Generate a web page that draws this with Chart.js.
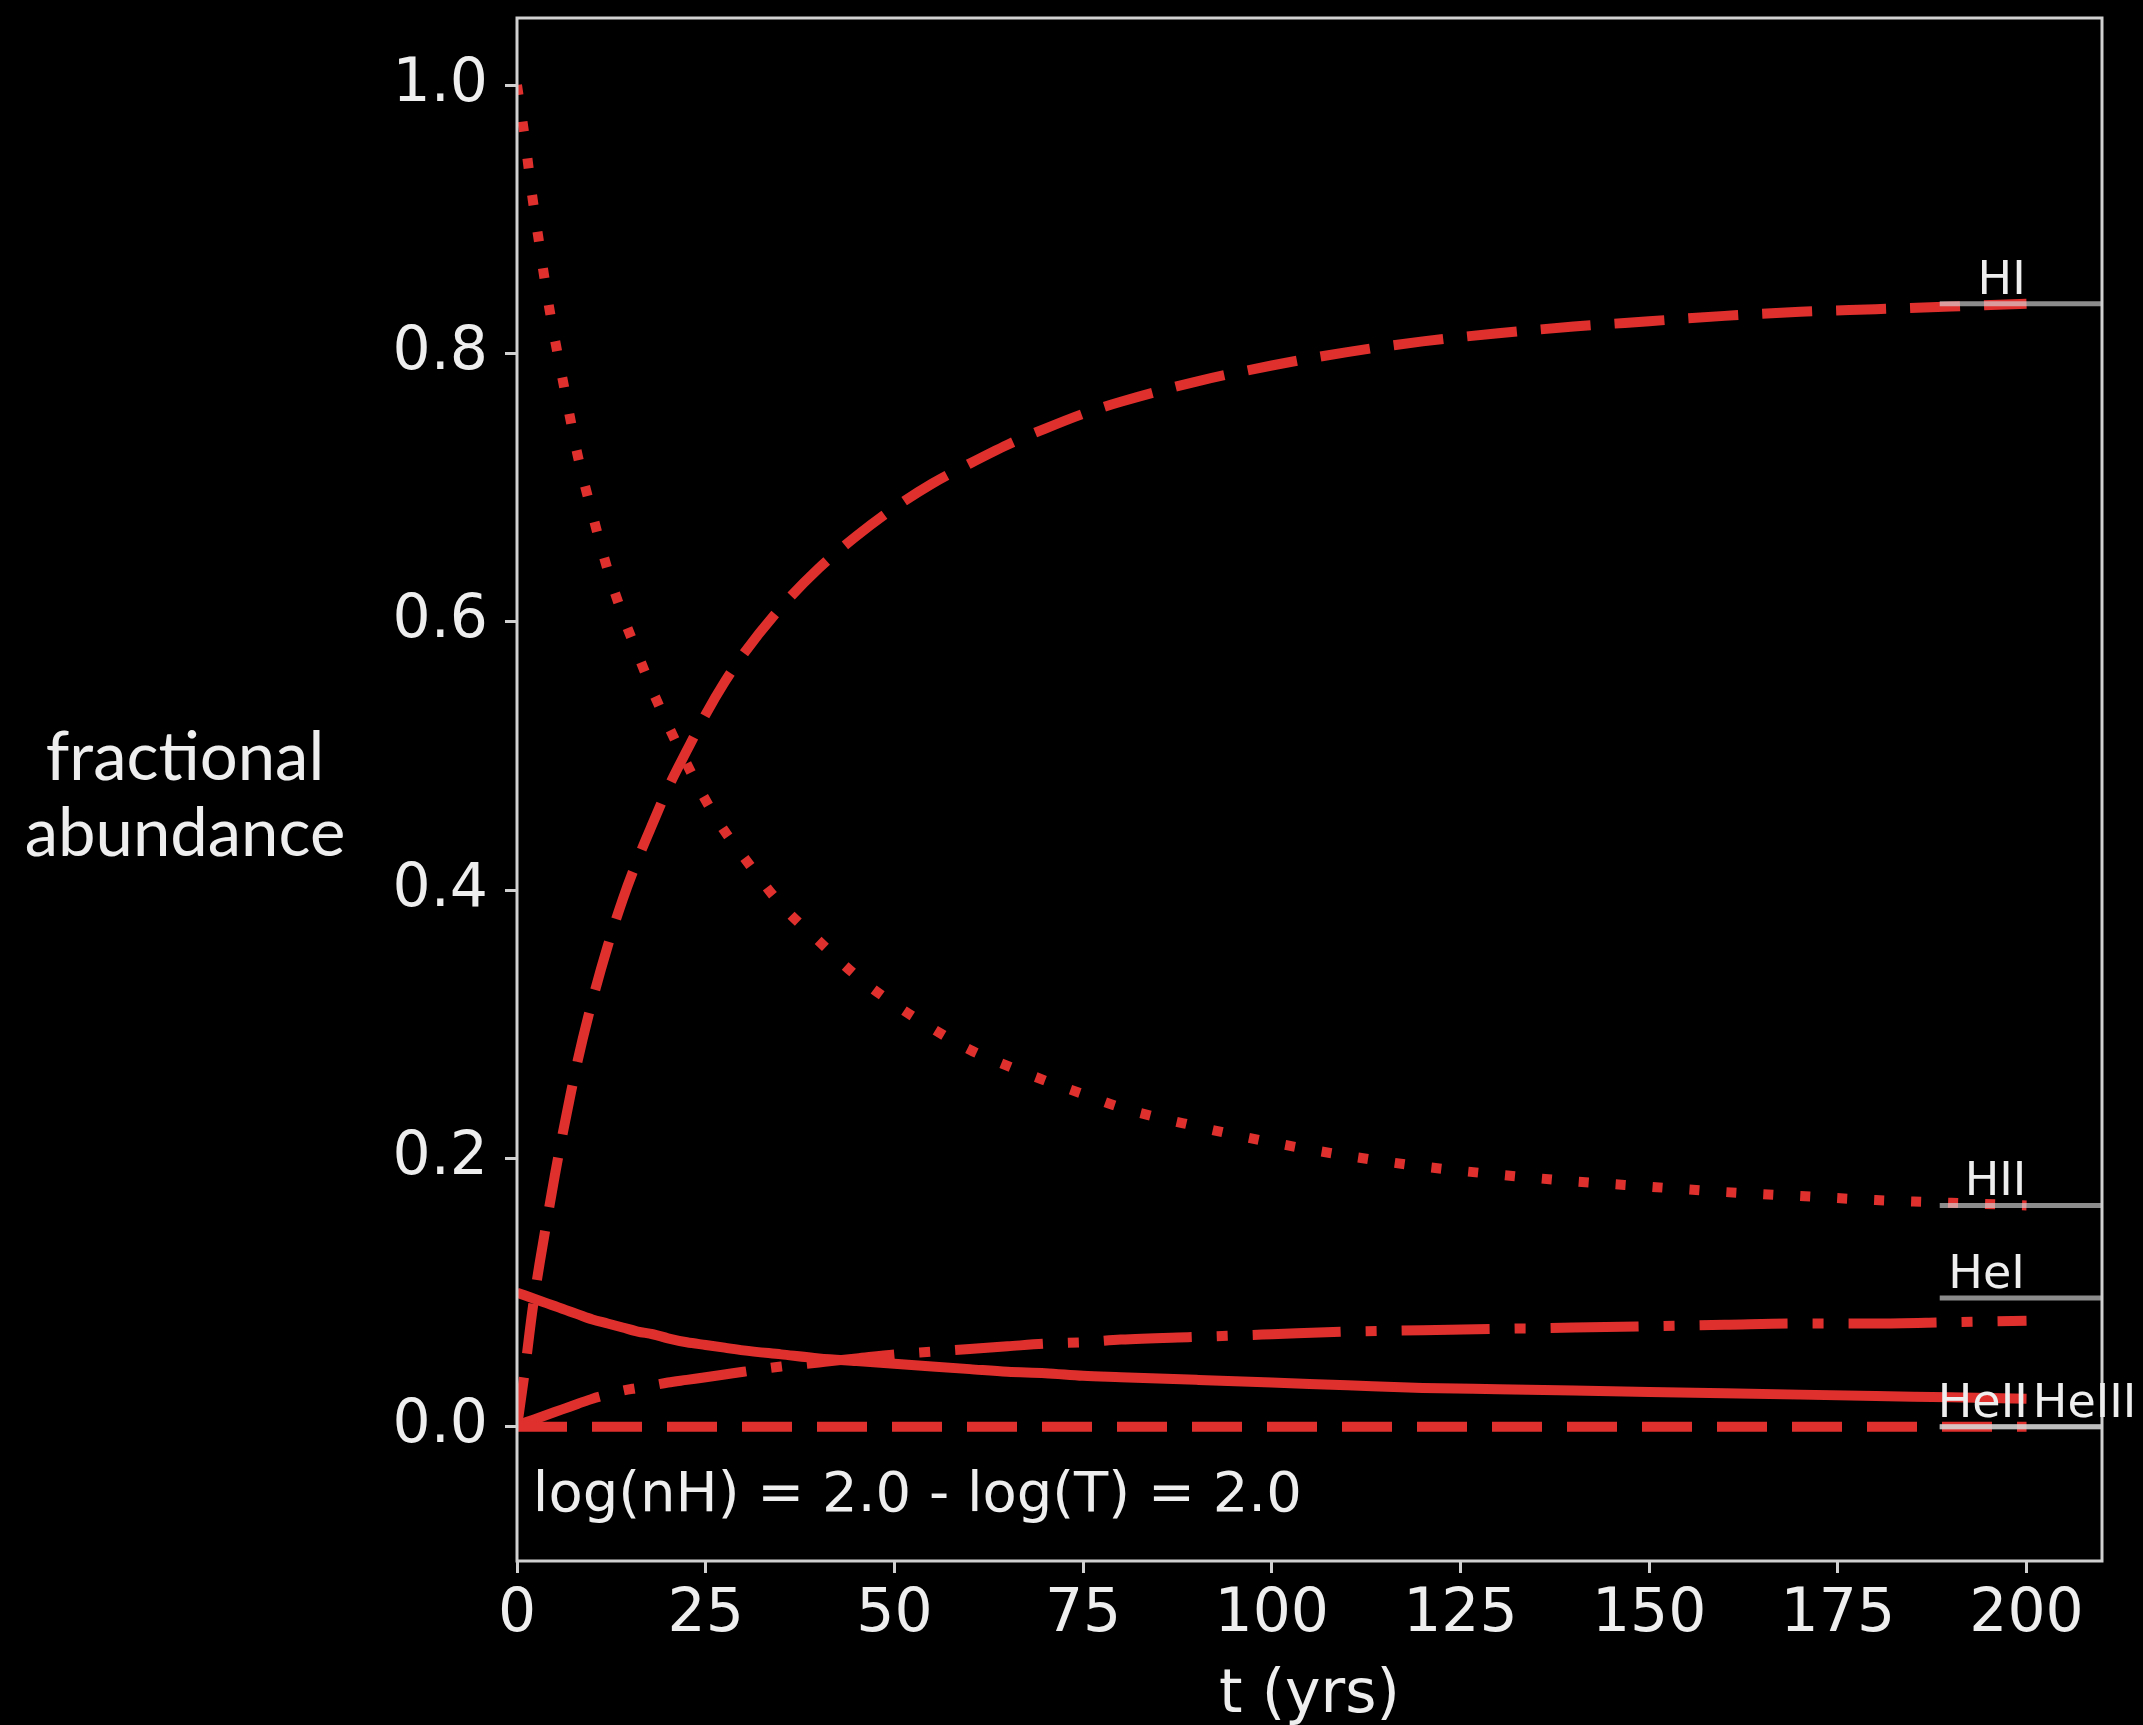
<!DOCTYPE html>
<html>
<head>
<meta charset="utf-8">
<title>fractional abundance</title>
<script src="https://cdn.jsdelivr.net/npm/chart.js@4.4.1/dist/chart.umd.min.js"></script>
<style>
  html, body { margin: 0; padding: 0; background: #000; }
  #wrap { width: 2143px; height: 1725px; }
</style>
</head>
<body>
<div id="wrap"><canvas id="abundanceChart" width="2143" height="1725"></canvas></div>
<script>
// time samples (yrs)
const tYrs   = [0, 1, 2, 3, 4, 5, 6, 7, 8, 10, 12, 14, 16, 18, 20, 22.5, 25, 27.5, 30, 35, 40, 45, 50, 55, 60, 65, 70, 75, 80, 90, 100, 110, 120, 130, 140, 150, 160, 170, 180, 190, 200];
// dashed, rising
const hiFrac = [0, 0.040, 0.085, 0.122, 0.155, 0.187, 0.217, 0.245, 0.272, 0.318, 0.358, 0.393, 0.423, 0.450, 0.476, 0.504, 0.531, 0.555, 0.576, 0.611, 0.640, 0.664, 0.685, 0.703, 0.718, 0.732, 0.744, 0.755, 0.764, 0.779, 0.791, 0.801, 0.809, 0.815, 0.820, 0.824, 0.828, 0.831, 0.833, 0.835, 0.837];
// dotted, falling
const hiiFrac = [1.000, 0.962, 0.918, 0.880, 0.843, 0.811, 0.782, 0.753, 0.725, 0.680, 0.639, 0.605, 0.576, 0.548, 0.523, 0.494, 0.467, 0.444, 0.425, 0.389, 0.362, 0.336, 0.315, 0.297, 0.281, 0.269, 0.258, 0.248, 0.238, 0.224, 0.212, 0.202, 0.194, 0.188, 0.183, 0.179, 0.175, 0.172, 0.169, 0.167, 0.165];
// dash-dot
const heiFrac = [0, 0.003, 0.005, 0.007, 0.009, 0.011, 0.013, 0.015, 0.017, 0.021, 0.024, 0.027, 0.029, 0.031, 0.033, 0.035, 0.037, 0.039, 0.041, 0.045, 0.048, 0.051, 0.054, 0.056, 0.058, 0.060, 0.062, 0.063, 0.065, 0.067, 0.069, 0.071, 0.072, 0.073, 0.074, 0.075, 0.076, 0.077, 0.077, 0.078, 0.079];
// solid
const heiiFrac = [0.100, 0.098, 0.096, 0.094, 0.092, 0.090, 0.088, 0.086, 0.084, 0.080, 0.077, 0.074, 0.071, 0.069, 0.066, 0.063, 0.061, 0.059, 0.057, 0.054, 0.051, 0.049, 0.047, 0.045, 0.043, 0.041, 0.040, 0.038, 0.037, 0.035, 0.033, 0.031, 0.029, 0.028, 0.027, 0.026, 0.025, 0.024, 0.023, 0.022, 0.021];
// dashed, flat at zero
const heiiiFrac = tYrs.map(() => 0);

// species labels at the right edge
const labelNames   = ['HI', 'HII', 'HeI', 'HeII', 'HeIII'];
const labelLevels  = [0.837, 0.165, 0.096, 0.0, 0.0];
const labelCenters = [196.7, 195.9, 194.7, 194.2, 207.7];
const labelSpan    = [188.5, 210];

const xTicks = [0, 25, 50, 75, 100, 125, 150, 175, 200];
const yTicks = [0.0, 0.2, 0.4, 0.6, 0.8, 1.0];
const xRange = [0, 210];
const yRange = [-0.1, 1.05];

const noteText = 'log(nH) = 2.0 - log(T) = 2.0';
const noteAt = [2.1, -0.052];

const RED = '#e0302e';
const GREY = '#d0d0d0';
const TEXT = '#eeeeee';

function series(vals) {
    return tYrs.map((t, i) => ({x: t, y: vals[i]}));
}

function redLine(vals, dash) {
    return {
        data: series(vals),
        borderColor: RED,
        borderWidth: 10,
        borderDash: dash,
        borderCapStyle: 'butt',
        pointRadius: 0,
        cubicInterpolationMode: 'monotone',
        fill: false,
        order: 1
    };
}

const datasets = [
    redLine(hiFrac, [50, 24]),
    redLine(hiiFrac, [10, 27]),
    redLine(heiFrac, [88, 25, 11, 25]),
    redLine(heiiFrac, []),
    redLine(heiiiFrac, [50, 25])
];
// grey marker lines under the labels, drawn over the red ones
labelLevels.forEach(v => {
    datasets.push({
        data: [{x: labelSpan[0], y: v}, {x: labelSpan[1], y: v}],
        borderColor: 'rgba(215,215,215,0.65)',
        borderWidth: 5,
        pointRadius: 0,
        fill: false,
        order: 0
    });
});

const overlayPlugin = {
    id: 'overlay',
    beforeDraw(chart) {
        const ctx = chart.ctx;
        ctx.save();
        ctx.fillStyle = '#000';
        ctx.fillRect(0, 0, chart.width, chart.height);
        ctx.restore();
    },
    afterDatasetsDraw(chart) {
        const {ctx, chartArea, scales} = chart;
        const xs = scales.x, ys = scales.y;
        ctx.save();
        // frame
        ctx.strokeStyle = GREY;
        ctx.lineWidth = 3;
        ctx.strokeRect(chartArea.left, chartArea.top, chartArea.right - chartArea.left, chartArea.bottom - chartArea.top);

        ctx.fillStyle = TEXT;
        // species labels
        ctx.font = '46px "DejaVu Sans"';
        ctx.textAlign = 'center';
        ctx.textBaseline = 'alphabetic';
        labelNames.forEach((name, i) => {
            ctx.fillText(name, xs.getPixelForValue(labelCenters[i]), ys.getPixelForValue(labelLevels[i]) - 10);
        });

        // note inside the plot
        ctx.font = '56px "DejaVu Sans"';
        ctx.textAlign = 'left';
        ctx.textBaseline = 'middle';
        ctx.fillText(noteText, xs.getPixelForValue(noteAt[0]), ys.getPixelForValue(noteAt[1]));

        // axis titles
        ctx.font = '60px "DejaVu Sans"';
        ctx.textAlign = 'center';
        ctx.fillText('t (yrs)', (chartArea.left + chartArea.right) / 2, 1696);
        ctx.font = '67px Lato';
        ctx.fillText('fractional', 185, 758);
        ctx.fillText('abundance', 185, 834);
        ctx.restore();
    }
};

const tickFont = {family: 'DejaVu Sans', size: 60};

new Chart(document.getElementById('abundanceChart'), {
    type: 'line',
    data: {datasets: datasets},
    options: {
        responsive: false,
        animation: false,
        devicePixelRatio: 1,
        layout: {padding: {left: 0, top: 18, right: 41, bottom: 0}},
        plugins: {
            legend: {display: false},
            tooltip: {enabled: false}
        },
        scales: {
            x: {
                type: 'linear',
                min: xRange[0],
                max: xRange[1],
                afterBuildTicks: s => { s.ticks = xTicks.map(v => ({value: v})); },
                afterFit: s => { s.height = 164; s.paddingLeft = 0; s.paddingRight = 0; },
                grid: {drawOnChartArea: false, drawTicks: true, tickLength: 12, color: GREY, lineWidth: 3},
                border: {display: false},
                ticks: {color: TEXT, font: tickFont, padding: 6, maxRotation: 0, autoSkip: false, callback: v => String(v)}
            },
            y: {
                type: 'linear',
                min: yRange[0],
                max: yRange[1],
                afterBuildTicks: s => { s.ticks = yTicks.map(v => ({value: v})); },
                afterFit: s => { s.width = 517; s.paddingTop = 0; s.paddingBottom = 0; },
                grid: {drawOnChartArea: false, drawTicks: true, tickLength: 12, color: GREY, lineWidth: 3},
                border: {display: false},
                ticks: {color: TEXT, font: tickFont, padding: 17, autoSkip: false, callback: v => v.toFixed(1)}
            }
        }
    },
    plugins: [overlayPlugin]
});
</script>
</body>
</html>
